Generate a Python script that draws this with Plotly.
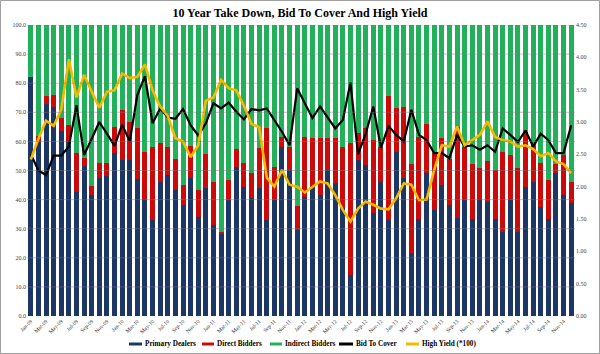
import plotly.graph_objects as go
import pandas as pd

months = [d.strftime("%b-%y") for d in pd.date_range("2009-01-01", periods=72, freq="MS")]

primary = [82.2, 60.0, 72.9, 71.9, 63.5, 60.0, 42.7, 51.5, 41.6, 47.3, 48.1, 55.9,
           53.6, 53.6, 47.0, 40.1, 33.0, 46.2, 48.5, 43.3, 38.1, 47.5, 33.9, 43.9,
           31.3, 28.4, 39.9, 51.3, 44.4, 40.4, 43.9, 33.0, 39.9, 58.2, 50.2, 29.6,
           41.0, 44.4, 41.6, 50.2, 45.6, 37.0, 14.1, 53.6, 51.9, 35.3, 46.2, 33.0,
           56.5, 47.3, 21.8, 33.2, 49.3, 36.4, 45.0, 38.1, 33.6, 39.9, 33.2, 40.1,
           39.3, 33.2, 29.0, 39.9, 29.0, 44.4, 46.2, 37.6, 33.2, 49.0, 41.6, 39.0]

direct = [0.0, 2.0, 2.7, 4.0, 4.4, 5.6, 13.2, 2.7, 3.1, 5.2, 4.4, 9.2,
          17.2, 13.2, 17.7, 16.4, 25.0, 13.4, 9.7, 10.7, 6.9, 10.9, 9.4, 11.8,
          14.9, 0.5, 6.8, 6.0, 8.3, 8.6, 13.7, 31.5, 11.4, 3.4, 8.0, 8.3,
          20.6, 16.7, 19.7, 11.1, 15.7, 21.2, 45.2, 9.2, 12.6, 25.2, 12.0, 42.6,
          14.9, 24.6, 30.4, 28.4, 16.7, 19.5, 16.3, 15.7, 31.5, 18.3, 19.0, 10.6,
          14.1, 17.0, 27.5, 15.4, 21.7, 18.9, 12.6, 14.9, 13.5, 3.2, 13.7, 7.2]

indirect = [17.8, 38.0, 24.4, 24.1, 32.1, 34.4, 44.1, 45.8, 55.3, 47.5, 47.5, 34.9,
            29.2, 33.2, 35.3, 43.5, 42.0, 40.4, 41.8, 46.0, 55.0, 41.6, 56.7, 44.3,
            53.8, 71.1, 53.3, 42.7, 47.3, 51.0, 42.4, 35.5, 48.7, 38.4, 41.8, 62.1,
            38.4, 38.9, 38.7, 38.7, 38.7, 41.8, 40.7, 37.2, 35.5, 39.5, 41.8, 24.4,
            28.6, 28.1, 47.8, 38.4, 34.0, 44.1, 38.7, 46.2, 34.9, 41.8, 47.8, 49.3,
            46.6, 49.8, 43.5, 44.7, 49.3, 36.7, 41.2, 47.5, 53.3, 47.8, 44.7, 53.8]

bid_to_cover = [2.50, 2.25, 2.18, 2.48, 2.48, 2.62, 3.26, 2.49, 2.74, 3.00, 2.82, 2.63,
                2.96, 2.70, 3.42, 3.71, 2.98, 3.21, 3.07, 3.05, 3.20, 2.95, 2.79, 2.98,
                3.29, 3.21, 3.30, 3.16, 3.04, 3.20, 3.18, 3.21, 3.03, 2.85, 2.64, 3.52,
                3.29, 3.06, 3.24, 3.07, 2.90, 3.03, 3.61, 2.50, 2.82, 3.24, 2.60, 2.94,
                2.80, 2.70, 3.19, 2.80, 2.72, 2.52, 2.52, 2.44, 2.80, 2.62, 2.64, 2.57,
                2.64, 2.54, 2.90, 2.80, 2.69, 2.87, 2.62, 2.82, 2.72, 2.52, 2.52, 2.95]

high_yield = [2.42, 2.74, 3.02, 2.94, 3.19, 3.97, 3.38, 3.73, 3.47, 3.22, 3.47, 3.49,
              3.75, 3.68, 3.70, 3.89, 3.49, 3.24, 3.09, 2.75, 2.70, 2.46, 2.64, 3.33,
              3.38, 3.65, 3.52, 3.49, 3.25, 2.97, 2.92, 2.14, 2.00, 2.26, 2.03, 2.00,
              1.91, 2.00, 2.08, 2.05, 1.87, 1.64, 1.46, 1.66, 1.77, 1.72, 1.66, 1.65,
              1.82, 2.05, 2.03, 1.79, 1.80, 2.26, 2.64, 2.62, 2.93, 2.64, 2.72, 2.80,
              3.01, 2.77, 2.72, 2.70, 2.62, 2.64, 2.58, 2.47, 2.52, 2.39, 2.35, 2.21]

left_ticks = [0, 10, 20, 30, 40, 50, 60, 70, 80, 90, 100]
right_ticks = [0, 0.5, 1.0, 1.5, 2.0, 2.5, 3.0, 3.5, 4.0, 4.5]

NAVY = "#1c3766"
RED = "#cc0a0a"
GREEN = "#22b15a"
GOLD = "#f7b900"
SERIF = "Liberation Serif"

# plot area in pixels (for placing the hand-drawn legend and border)
L, R, T, B = 27, 25, 25, 38
W, H = 600, 354
PW, PH = W - L - R, H - T - B


def px(x):
    return (x - L) / PW


def py(y):
    return (H - B - y) / PH


fig = go.Figure()
fig.add_bar(x=months, y=primary, name="Primary Dealers", marker_color=NAVY, marker_line_width=0)
fig.add_bar(x=months, y=direct, name="Direct Bidders", marker_color=RED, marker_line_width=0)
fig.add_bar(x=months, y=indirect, name="Indirect Bidders", marker_color=GREEN, marker_line_width=0)
fig.add_scatter(x=months, y=bid_to_cover, name="Bid To Cover", mode="lines",
                line=dict(color="black", width=2.2), yaxis="y2")
fig.add_scatter(x=months, y=high_yield, name="High Yield (*100)", mode="lines",
                line=dict(color=GOLD, width=2.6), yaxis="y2")

# gridlines drawn over the bars, as in the reference
for v in left_ticks[1:]:
    fig.add_shape(type="line", xref="paper", yref="y", x0=0, x1=1, y0=v, y1=v,
                  line=dict(color="rgba(120,120,120,0.45)", width=1), layer="above")

# outer border
fig.add_shape(type="rect", xref="paper", yref="paper",
              x0=px(0.5), x1=px(599.5), y0=py(353.5), y1=py(0.5),
              line=dict(color="#a0a0a0", width=1), layer="above")

# compact legend (swatch start px, text start px, label, colour)
legend_items = [
    (129, 143, "Primary Dealers", NAVY),
    (202, 215, "Direct Bidders", RED),
    (270, 283, "Indirect Bidders", GREEN),
    (339, 354, "Bid To Cover", "black"),
    (406, 420, "High Yield (*100)", GOLD),
]
LEG_Y = 344
for sx, tx, label, col in legend_items:
    fig.add_shape(type="line", xref="paper", yref="paper",
                  x0=px(sx), x1=px(tx - 1), y0=py(LEG_Y), y1=py(LEG_Y),
                  line=dict(color=col, width=3))
    fig.add_annotation(text=label, xref="paper", yref="paper", x=px(tx), y=py(LEG_Y),
                       xanchor="left", yanchor="middle", showarrow=False,
                       font=dict(family=SERIF, size=7.2, color="black", weight="bold"))

fig.update_layout(
    width=W, height=H,
    margin=dict(l=L, r=R, t=T, b=B, autoexpand=False),
    barmode="stack", bargap=0.34,
    plot_bgcolor="white", paper_bgcolor="white",
    showlegend=False,
    title=dict(text="10 Year Take Down, Bid To Cover And High Yield",
               x=0.5, xanchor="center", y=0.965, yanchor="middle",
               font=dict(family=SERIF, size=12, color="black", weight="bold")),
    xaxis=dict(type="category", tickmode="array", tickvals=months[::2], ticktext=months[::2],
               tickangle=-45, tickfont=dict(family=SERIF, size=5.5, color="#333"),
               showgrid=False, ticks="", showline=False, range=[-0.5, 71.5],
               automargin=False),
    yaxis=dict(range=[0, 100], tickvals=left_ticks,
               ticktext=[f"{v:.1f}" for v in left_ticks],
               tickfont=dict(family=SERIF, size=6, color="#444"),
               showgrid=False, zeroline=False, ticks="", automargin=False),
    yaxis2=dict(range=[0, 4.5], tickvals=right_ticks,
                ticktext=[f"{v:.2f}" for v in right_ticks],
                overlaying="y", side="right",
                tickfont=dict(family=SERIF, size=6, color="#444"),
                showgrid=False, zeroline=False, ticks="", automargin=False),
)

fig.write_html("out.html")
